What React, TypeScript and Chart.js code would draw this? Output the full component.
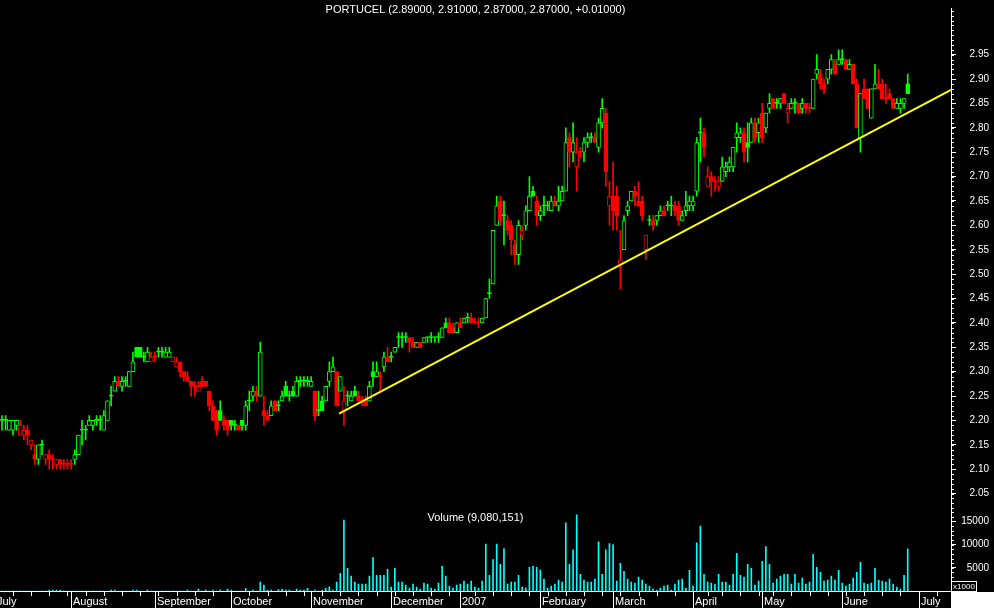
import React, { useEffect, useRef } from 'react';
import { Chart, registerables } from 'chart.js';

Chart.register(...registerables);

const TITLE = 'PORTUCEL (2.89000, 2.91000, 2.87000, 2.87000, +0.01000)';
const VOLUME_TITLE = 'Volume (9,080,151)';

const OPEN = [
  2.20,2.20,2.18,2.18,2.19,2.17,2.17,2.18,2.15,2.13,
  2.12,2.15,2.12,2.13,2.12,2.11,2.12,2.11,2.11,2.11,
  2.12,2.13,2.18,2.18,2.19,2.19,2.20,2.20,2.18,2.20,
  2.25,2.26,2.28,2.27,2.28,2.27,2.30,2.35,2.35,2.33,
  2.32,2.32,2.33,2.34,2.34,2.33,2.33,2.32,2.31,2.32,
  2.30,2.29,2.28,2.27,2.26,2.28,2.28,2.26,2.23,2.22,
  2.22,2.20,2.20,2.20,2.19,2.19,2.20,2.19,2.24,2.25,
  2.26,2.25,2.22,2.21,2.21,2.24,2.23,2.24,2.27,2.25,
  2.26,2.25,2.28,2.28,2.28,2.27,2.26,2.22,2.24,2.24,
  2.28,2.30,2.30,2.26,2.22,2.25,2.24,2.26,2.25,2.24,
  2.24,2.24,2.30,2.29,2.29,2.31,2.33,2.33,2.34,2.37,
  2.37,2.37,2.37,2.36,2.35,2.36,2.36,2.37,2.37,2.37,
  2.37,2.37,2.40,2.40,2.39,2.38,2.40,2.40,2.41,2.41,
  2.40,2.40,2.40,2.41,2.46,2.48,2.60,2.65,2.62,2.61,
  2.60,2.56,2.54,2.58,2.60,2.63,2.67,2.65,2.62,2.64,
  2.64,2.63,2.65,2.64,2.65,2.67,2.78,2.75,2.72,2.75,
  2.75,2.77,2.78,2.78,2.76,2.81,2.83,2.64,2.66,2.66,
  2.52,2.55,2.63,2.65,2.67,2.65,2.65,2.55,2.61,2.61,
  2.61,2.62,2.63,2.64,2.64,2.64,2.64,2.61,2.63,2.64,
  2.64,2.67,2.79,2.79,2.68,2.70,2.69,2.68,2.69,2.71,
  2.72,2.72,2.78,2.78,2.79,2.77,2.77,2.81,2.79,2.83,
  2.80,2.84,2.86,2.85,2.85,2.87,2.83,2.84,2.85,2.85,
  2.84,2.85,2.84,2.84,2.91,2.91,2.89,2.90,2.92,2.93,
  2.93,2.94,2.94,2.92,2.93,2.89,2.78,2.88,2.88,2.82,
  2.88,2.89,2.89,2.86,2.87,2.86,2.84,2.84,2.85,2.89,
];

const HIGH = [
  2.21,2.21,2.20,2.20,2.20,2.20,2.19,2.19,2.16,2.15,
  2.15,2.16,2.13,2.14,2.13,2.12,2.12,2.12,2.12,2.12,
  2.14,2.17,2.20,2.19,2.21,2.20,2.21,2.21,2.22,2.24,
  2.27,2.29,2.29,2.29,2.29,2.30,2.34,2.35,2.35,2.34,
  2.35,2.34,2.34,2.35,2.35,2.35,2.35,2.33,2.33,2.32,
  2.30,2.30,2.28,2.28,2.28,2.29,2.28,2.26,2.24,2.22,
  2.24,2.21,2.20,2.20,2.20,2.19,2.20,2.24,2.26,2.27,
  2.27,2.36,2.25,2.22,2.24,2.24,2.24,2.26,2.28,2.26,
  2.27,2.29,2.29,2.29,2.29,2.29,2.26,2.26,2.25,2.27,
  2.32,2.33,2.30,2.29,2.27,2.26,2.26,2.27,2.26,2.25,
  2.25,2.28,2.32,2.32,2.30,2.34,2.35,2.34,2.35,2.38,
  2.38,2.38,2.37,2.37,2.36,2.36,2.37,2.37,2.38,2.37,
  2.38,2.39,2.41,2.41,2.40,2.40,2.41,2.41,2.42,2.42,
  2.41,2.41,2.41,2.45,2.49,2.59,2.66,2.66,2.65,2.62,
  2.61,2.57,2.61,2.60,2.64,2.70,2.68,2.66,2.64,2.66,
  2.65,2.66,2.66,2.68,2.68,2.80,2.79,2.81,2.78,2.76,
  2.78,2.79,2.79,2.79,2.82,2.86,2.84,2.69,2.73,2.68,
  2.59,2.62,2.65,2.67,2.68,2.69,2.66,2.58,2.62,2.62,
  2.62,2.64,2.64,2.65,2.66,2.65,2.65,2.63,2.67,2.66,
  2.66,2.78,2.82,2.80,2.72,2.71,2.70,2.70,2.74,2.73,
  2.74,2.76,2.81,2.80,2.80,2.81,2.82,2.82,2.82,2.85,
  2.83,2.87,2.86,2.86,2.86,2.87,2.85,2.86,2.86,2.85,
  2.86,2.85,2.85,2.90,2.95,2.92,2.90,2.92,2.95,2.94,
  2.96,2.96,2.94,2.94,2.93,2.90,2.87,2.90,2.88,2.88,
  2.93,2.92,2.90,2.89,2.88,2.86,2.86,2.86,2.86,2.91,
];

const LOW = [
  2.18,2.18,2.18,2.17,2.18,2.17,2.16,2.15,2.14,2.11,
  2.11,2.13,2.11,2.10,2.10,2.10,2.10,2.10,2.10,2.10,
  2.11,2.13,2.15,2.16,2.19,2.18,2.19,2.18,2.18,2.20,
  2.23,2.26,2.27,2.26,2.27,2.27,2.30,2.33,2.33,2.32,
  2.32,2.32,2.32,2.33,2.33,2.33,2.33,2.32,2.31,2.29,
  2.28,2.28,2.25,2.25,2.26,2.27,2.27,2.22,2.20,2.17,
  2.20,2.18,2.17,2.18,2.18,2.18,2.18,2.18,2.22,2.24,
  2.24,2.25,2.19,2.20,2.21,2.22,2.22,2.24,2.25,2.24,
  2.25,2.25,2.27,2.27,2.27,2.27,2.20,2.21,2.22,2.24,
  2.27,2.30,2.23,2.26,2.19,2.23,2.24,2.25,2.24,2.23,
  2.23,2.24,2.27,2.29,2.26,2.30,2.32,2.32,2.34,2.35,
  2.35,2.36,2.34,2.35,2.35,2.35,2.36,2.36,2.36,2.36,
  2.36,2.37,2.39,2.38,2.38,2.38,2.39,2.40,2.40,2.40,
  2.40,2.39,2.40,2.41,2.45,2.48,2.60,2.60,2.56,2.58,
  2.54,2.52,2.52,2.57,2.59,2.63,2.66,2.60,2.61,2.62,
  2.63,2.63,2.64,2.63,2.65,2.67,2.72,2.73,2.67,2.74,
  2.73,2.76,2.77,2.77,2.75,2.80,2.68,2.60,2.59,2.59,
  2.47,2.55,2.62,2.65,2.64,2.64,2.61,2.53,2.60,2.59,
  2.60,2.62,2.62,2.63,2.62,2.62,2.60,2.61,2.62,2.63,
  2.63,2.66,2.73,2.74,2.68,2.66,2.67,2.67,2.69,2.70,
  2.71,2.71,2.75,2.77,2.73,2.73,2.77,2.77,2.77,2.77,
  2.79,2.83,2.84,2.84,2.84,2.85,2.81,2.84,2.83,2.83,
  2.83,2.83,2.83,2.84,2.90,2.88,2.87,2.89,2.91,2.91,
  2.93,2.93,2.92,2.92,2.89,2.80,2.75,2.86,2.84,2.82,
  2.88,2.88,2.86,2.85,2.86,2.84,2.84,2.83,2.84,2.87,
];

const CLOSE = [
  2.20,2.20,2.20,2.20,2.20,2.19,2.18,2.17,2.16,2.12,
  2.15,2.15,2.13,2.12,2.12,2.12,2.11,2.11,2.11,2.11,
  2.13,2.17,2.18,2.18,2.20,2.20,2.20,2.20,2.21,2.24,
  2.25,2.28,2.27,2.28,2.28,2.30,2.32,2.33,2.33,2.33,
  2.34,2.33,2.33,2.34,2.34,2.34,2.34,2.33,2.32,2.30,
  2.29,2.28,2.27,2.27,2.27,2.27,2.27,2.23,2.20,2.18,
  2.20,2.19,2.18,2.19,2.19,2.18,2.19,2.23,2.24,2.26,
  2.25,2.34,2.21,2.20,2.23,2.22,2.23,2.25,2.25,2.25,
  2.25,2.28,2.28,2.28,2.28,2.28,2.21,2.22,2.22,2.27,
  2.30,2.31,2.23,2.29,2.24,2.25,2.25,2.25,2.24,2.24,
  2.23,2.27,2.29,2.30,2.29,2.33,2.32,2.33,2.35,2.37,
  2.37,2.37,2.36,2.35,2.36,2.35,2.37,2.37,2.37,2.37,
  2.37,2.39,2.39,2.38,2.38,2.40,2.39,2.41,2.41,2.40,
  2.40,2.40,2.41,2.45,2.46,2.59,2.64,2.61,2.62,2.59,
  2.57,2.54,2.60,2.59,2.63,2.66,2.66,2.62,2.63,2.64,
  2.64,2.65,2.64,2.65,2.67,2.77,2.75,2.77,2.75,2.75,
  2.77,2.78,2.78,2.77,2.81,2.84,2.71,2.66,2.63,2.62,
  2.53,2.61,2.64,2.67,2.66,2.64,2.62,2.58,2.61,2.60,
  2.62,2.63,2.62,2.64,2.64,2.63,2.61,2.62,2.64,2.65,
  2.65,2.77,2.79,2.76,2.70,2.69,2.69,2.69,2.72,2.72,
  2.73,2.76,2.79,2.79,2.75,2.76,2.81,2.78,2.81,2.78,
  2.83,2.85,2.84,2.85,2.86,2.85,2.84,2.85,2.85,2.83,
  2.85,2.84,2.84,2.90,2.92,2.89,2.88,2.92,2.94,2.91,
  2.94,2.94,2.92,2.93,2.89,2.80,2.87,2.86,2.84,2.88,
  2.89,2.88,2.86,2.86,2.86,2.84,2.85,2.85,2.86,2.87,
];

// volume in thousands of shares (axis is x1000)
const VOLUME = [
  0,0,0,0,0,0,0,0,0,0,
  0,0,0,200,200,200,200,0,0,0,
  0,0,0,0,0,0,0,0,0,0,
  200,200,0,0,0,0,200,200,0,0,
  200,0,0,0,0,0,0,0,0,0,
  0,200,0,0,400,0,200,0,200,0,
  200,0,400,200,0,0,0,600,0,200,
  0,1900,1300,200,200,0,300,400,200,200,
  0,400,200,200,600,0,200,0,200,600,
  900,200,1900,3800,15300,4900,3200,1900,1500,1500,
  1500,3200,7200,3400,3400,3400,4700,850,4900,1900,
  1900,1300,640,1500,850,430,1700,1500,640,430,
  1700,5300,3200,1060,640,1280,1500,2130,1500,2130,
  850,600,2130,10100,3400,6800,10100,5750,9150,1500,
  1900,1900,3400,850,640,5100,5300,5100,4500,2550,
  640,1060,1500,2340,1900,14700,5750,8900,16400,3600,
  2340,1900,1900,2550,10600,3600,8900,10200,10000,2130,
  5960,4260,2550,1900,1700,3000,2340,1500,1060,430,
  210,640,1060,1280,210,1500,2340,2550,640,4470,
  1060,10400,14000,3600,1900,1700,1500,3600,1900,1900,
  1280,3600,8100,3400,3000,5750,4900,1280,2130,6400,
  9570,5750,1700,2550,3200,3600,3600,1500,3600,1700,
  2770,1500,1900,7900,5100,4000,2130,2340,3200,2340,
  4470,1700,1060,1500,2770,4000,6200,1700,1500,1700,
  4900,2340,2130,1900,2550,1500,850,430,3400,9080,
];

const PRICE_TICKS = [2.05,2.10,2.15,2.20,2.25,2.30,2.35,2.40,2.45,2.50,2.55,2.60,2.65,2.70,2.75,2.80,2.85,2.90,2.95];
const VOLUME_TICKS = [5000, 10000, 15000];

const MONTH_LABELS = ['July','August','September','October','November','December','2007','February','March','April','May','June','July'];
const MONTH_START = [-2,19,42,63,85,107,126,148,168,190,209,231,252];
const WEEK_TICKS = [3,8,13,18,23,28,33,38,43,48,53,58,68,73,78,83,88,93,98,103,108,113,118,123,130,135,140,145,150,155,160,165,170,175,180,185,194,198,203,208,212,217,222,227,232,237,242,247,257];

const TREND_X = [92.66, 260.9];
const TREND_Y = [2.214, 2.878];

const X_MIN = -0.55;
const X_MAX = 260.9;
const PRICE_MIN = 2.0283;
const PRICE_MAX = 3.0457;
const VOL_MAX = 18720;

const GREEN = '#00ff00';
const RED = '#ff0000';
const CYAN = '#00ffff';
const YELLOW = '#ffff00';
const FONT = '"Liberation Sans", Arial, sans-serif';

function candleColors(): string[] {
  const cols: string[] = [];
  let prev = GREEN;
  for (let i = 0; i < CLOSE.length; i++) {
    let c = prev;
    if (i > 0) {
      if (CLOSE[i] > CLOSE[i - 1] + 1e-9) c = GREEN;
      else if (CLOSE[i] < CLOSE[i - 1] - 1e-9) c = RED;
    }
    cols.push(c);
    prev = c;
  }
  return cols;
}

const chromePlugin = {
  id: 'chrome',
  beforeDraw(chart: any) {
    const { ctx, width, height } = chart;
    ctx.save();
    ctx.fillStyle = '#000';
    ctx.fillRect(0, 0, width, height);
    ctx.restore();
  },
  afterDraw(chart: any) {
    const { ctx, chartArea } = chart;
    const xs = chart.scales.x;
    const yp = chart.scales.y;
    const yv = chart.scales.yv;
    const bottom = Math.round(chartArea.bottom);
    const right = Math.round(chartArea.right);
    ctx.save();
    // white corner bottom-right
    ctx.fillStyle = '#fff';
    ctx.fillRect(right, bottom + 1, chart.width - right, chart.height - bottom - 1);
    // x axis line
    ctx.strokeStyle = '#fff';
    ctx.lineWidth = 1;
    ctx.beginPath();
    ctx.moveTo(0, bottom + 0.5);
    ctx.lineTo(right, bottom + 0.5);
    ctx.stroke();
    // weekly ticks
    ctx.beginPath();
    WEEK_TICKS.forEach((v) => {
      const px = Math.round(xs.getPixelForValue(v)) + 0.5;
      if (px > right) return;
      ctx.moveTo(px, bottom);
      ctx.lineTo(px, bottom + 5);
    });
    ctx.stroke();
    // month separators + labels
    ctx.save();
    ctx.beginPath();
    ctx.rect(0, 0, right, chart.height);
    ctx.clip();
    ctx.fillStyle = '#fff';
    ctx.font = '11px ' + FONT;
    ctx.textAlign = 'left';
    ctx.textBaseline = 'middle';
    MONTH_START.forEach((v, i) => {
      const px = Math.round(xs.getPixelForValue(v)) + 0.5;
      ctx.beginPath();
      ctx.moveTo(px, bottom);
      ctx.lineTo(px, chart.height);
      ctx.stroke();
      ctx.fillText(MONTH_LABELS[i], px + 1.5, bottom + 10.5);
    });
    ctx.restore();
    // minor ticks on price and volume axes
    ctx.beginPath();
    for (let k = 203; k <= 304; k++) {
      const py = Math.round(yp.getPixelForValue(k / 100)) + 0.5;
      if (py < yp.top || py > yp.bottom) continue;
      ctx.moveTo(right, py);
      ctx.lineTo(right + 3, py);
    }
    for (let k = 1; k <= 18; k++) {
      const py = Math.round(yv.getPixelForValue(k * 1000)) + 0.5;
      if (py < yv.top || py > yv.bottom) continue;
      ctx.moveTo(right, py);
      ctx.lineTo(right + 3, py);
    }
    ctx.stroke();
    // x1000 box
    ctx.fillStyle = '#000';
    ctx.fillRect(right + 1, bottom - 10, 24, 10);
    ctx.strokeRect(right + 0.5, bottom - 9.5, 25, 10);
    ctx.fillStyle = '#fff';
    ctx.font = '8px ' + FONT;
    ctx.textAlign = 'center';
    ctx.textBaseline = 'middle';
    ctx.fillText('x1000', right + 13, bottom - 4.5);
    // titles
    const cx = (chartArea.left + chartArea.right) / 2;
    ctx.font = '11px ' + FONT;
    ctx.fillText(TITLE, cx, 10);
    ctx.fillText(VOLUME_TITLE, cx, yv.top + 14);
    ctx.restore();
  },
};

export default function App() {
  const ref = useRef<HTMLCanvasElement>(null);
  useEffect(() => {
    const canvas = ref.current;
    if (!canvas) return;
    const cols = candleColors();
    const bodyFill = CLOSE.map((c, i) => (c > OPEN[i] + 1e-9 ? '#000' : cols[i]));
    const bodies = OPEN.map((o, i) => ({ x: i, y: [Math.min(o, CLOSE[i]), Math.max(o, CLOSE[i])] }));
    const wicks = LOW.map((l, i) => ({ x: i, y: [l, HIGH[i]] }));
    const vols = VOLUME.map((v, i) => ({ x: i, y: v }));
    const trend = TREND_X.map((x, i) => ({ x, y: TREND_Y[i] }));

    const axisCommon = {
      position: 'right',
      stack: 'right',
      grid: { drawOnChartArea: false, color: '#fff', tickLength: 5, tickWidth: 1 },
      border: { display: true, color: '#fff', width: 1 },
      afterFit: (s: any) => { s.width = 38; },
    };

    const chart = new Chart(canvas, {
      type: 'bar',
      data: {
        datasets: [
          {
            type: 'line',
            data: trend,
            xAxisID: 'x',
            yAxisID: 'y',
            borderColor: YELLOW,
            borderWidth: 2,
            pointRadius: 0,
            order: 0,
          } as any,
          {
            type: 'bar',
            data: bodies,
            xAxisID: 'x',
            yAxisID: 'y',
            backgroundColor: bodyFill,
            borderColor: cols,
            borderWidth: 1,
            borderSkipped: false,
            barThickness: 4,
            minBarLength: 1,
            grouped: false,
            order: 1,
          } as any,
          {
            type: 'bar',
            data: wicks,
            xAxisID: 'x',
            yAxisID: 'y',
            backgroundColor: cols,
            borderWidth: 0,
            barThickness: 1,
            grouped: false,
            order: 2,
          } as any,
          {
            type: 'bar',
            data: vols,
            xAxisID: 'x',
            yAxisID: 'yv',
            backgroundColor: CYAN,
            borderWidth: 0,
            barThickness: 1,
            grouped: false,
            order: 3,
          } as any,
        ],
      },
      options: {
        animation: false,
        responsive: false,
        devicePixelRatio: 1,
        events: [],
        layout: { padding: { left: 0, right: 5, top: 0, bottom: 17 } },
        plugins: {
          legend: { display: false },
          tooltip: { enabled: false },
          title: { display: false },
        },
        scales: {
          x: { type: 'linear', min: X_MIN, max: X_MAX, display: false, offset: false },
          y: {
            ...axisCommon,
            type: 'linear',
            stackWeight: 503,
            min: PRICE_MIN,
            max: PRICE_MAX,
            afterBuildTicks: (s: any) => { s.ticks = PRICE_TICKS.map((v) => ({ value: v })); },
            ticks: {
              autoSkip: false,
              color: '#fff',
              crossAlign: 'far',
              padding: 2,
              font: { family: FONT, size: 10 },
              callback: (v: any) => Number(v).toFixed(2),
            },
          },
          yv: {
            ...axisCommon,
            type: 'linear',
            stackWeight: 88,
            min: 0,
            max: VOL_MAX,
            afterBuildTicks: (s: any) => { s.ticks = VOLUME_TICKS.map((v) => ({ value: v })); },
            ticks: {
              autoSkip: false,
              color: '#fff',
              crossAlign: 'far',
              padding: 2,
              font: { family: FONT, size: 10 },
              callback: (v: any) => String(v),
            },
          },
        },
      } as any,
      plugins: [chromePlugin],
    });
    return () => chart.destroy();
  }, []);

  return (
    <div style={{ position: 'fixed', left: 0, top: 0, width: 994, height: 608, background: '#000' }}>
      <canvas ref={ref} width={994} height={608} style={{ display: 'block', width: 994, height: 608 }} />
    </div>
  );
}
